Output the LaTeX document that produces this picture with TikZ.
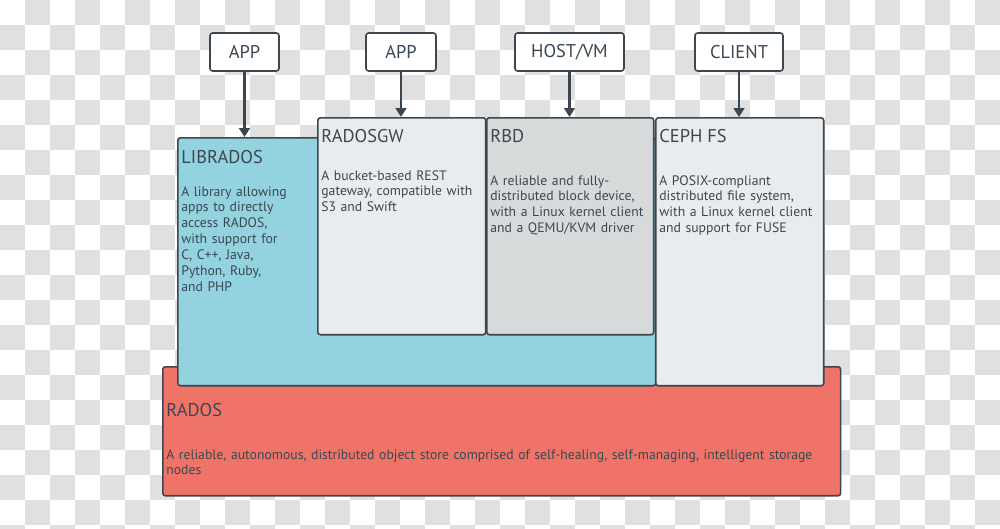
\documentclass[tikz,border=0pt]{standalone}
\usepackage{fontspec}
\setmainfont{PT Sans}
\usetikzlibrary{positioning,arrows.meta}

\definecolor{edge}{HTML}{3B4650}
\definecolor{ink}{HTML}{3A4750}
\definecolor{checker}{HTML}{E0E0E0}
\definecolor{libcol}{HTML}{93D2DF}
\definecolor{gwcol}{HTML}{E9ECEE}
\definecolor{rbdcol}{HTML}{D7DADB}
\definecolor{radoscol}{HTML}{F07368}

\begin{document}
\begin{tikzpicture}[x=0.02cm, y=-0.02cm,
  layer/.style={draw=edge, line width=0.9pt, rounded corners=1.5pt,
    anchor=north west, inner sep=0pt},
  client/.style={draw=edge, fill=white, line width=0.9pt, rounded corners=1.5pt,
    minimum height=0.76cm, inner sep=0pt, text=ink,
    font=\fontsize{10.5}{12}\selectfont},
  title/.style={anchor=base west, inner sep=0pt, text=ink,
    font=\fontsize{10.5}{12}\selectfont},
  body/.style={anchor=base west, inner sep=0pt, align=left, text=ink,
    text width=4.5cm, font=\fontsize{7.8}{9.1}\selectfont},
  feed/.style={draw=edge, line width=1.5pt, -{Triangle[width=6pt,length=5pt]}}]

  % Background
  \useasboundingbox (0,0) rectangle (1000,528);
  \begin{scope}
    \clip (0,0) rectangle (1000,528);
    \fill[white] (0,0) rectangle (1000,528);
    \foreach \j in {0,2,...,20}
      \foreach \i in {1,3,...,39}
        \fill[checker] (\i*25,\j*25) rectangle ++(25,25);
    \foreach \j in {1,3,...,21}
      \foreach \i in {0,2,...,38}
        \fill[checker] (\i*25,\j*25) rectangle ++(25,25);
  \end{scope}

  % Storage layer
  \node[layer, fill=radoscol, minimum width=13.56cm, minimum height=2.58cm]
    (rados) at (162,366) {};
  \node[layer, fill=libcol, minimum width=9.56cm, minimum height=4.96cm]
    (librados) at (177,137) {};
  \node[layer, fill=gwcol, minimum width=3.36cm, minimum height=4.34cm]
    (radosgw) at (317,117) {};
  \node[layer, fill=rbdcol, minimum width=3.34cm, minimum height=4.34cm]
    (rbd) at (486,117) {};
  \node[layer, fill=gwcol, minimum width=3.36cm, minimum height=5.36cm]
    (cephfs) at (655,117) {};

  % Titles
  \node[title] (radosT) at (166,416) {RADOS};
  \node[title] (libradosT) at (181,163) {LIBRADOS};
  \node[title] (radosgwT) at (321,142) {RADOSGW};
  \node[title] (rbdT) at (490,142) {RBD};
  \node[title] (cephfsT) at (659,142) {CEPH FS};

  % Descriptions
  \node[body, text width=13.4cm] (radosB) at (166,459)
    {A reliable, autonomous, distributed object store comprised of self-healing, self-managing, intelligent storage\\nodes};
  \node[body] (libradosB) at (181,196)
    {A library allowing\\apps to directly\\access RADOS,\\with support for\\C, C++, Java,\\Python, Ruby,\\and PHP};
  \node[body] (radosgwB) at (321,180)
    {A bucket-based REST\\gateway, compatible with\\S3 and Swift};
  \node[body] (rbdB) at (490,185)
    {A reliable and fully-\\distributed block device,\\with a Linux kernel client\\and a QEMU/KVM driver};
  \node[body] (cephfsB) at (659,185)
    {A POSIX-compliant\\distributed file system,\\with a Linux kernel client\\and support for FUSE};

  % Clients
  \node[client, minimum width=1.38cm] (app1) at (244.5,52) {APP};
  \node[client, minimum width=1.40cm] (app2) at (401,52) {APP};
  \node[client, minimum width=2.18cm] (host) at (569.5,52) {HOST/VM};
  \node[client, minimum width=1.76cm] (client) at (739,52) {CLIENT};

  % Arrows
  \draw[feed] (app1) -- (app1 |- librados.north);
  \draw[feed] (app2) -- (app2 |- radosgw.north);
  \draw[feed] (host) -- (host |- rbd.north);
  \draw[feed] (client) -- (client |- cephfs.north);
\end{tikzpicture}
\end{document}
